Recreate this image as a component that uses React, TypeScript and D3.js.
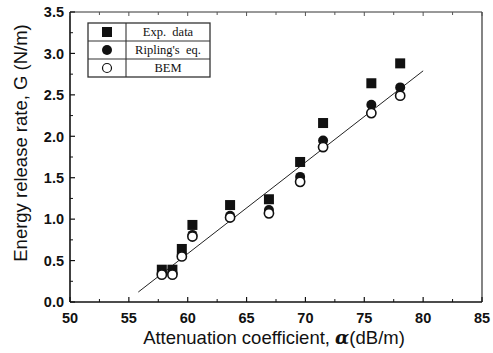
import React from 'react';
import * as d3 from 'd3';

// attenuation coefficient (dB/m) for each specimen
const alpha = [57.8, 58.7, 59.5, 60.4, 63.6, 66.9, 69.55, 71.5, 75.6, 78.05];
// energy release rate G (N/m)
const expData = [0.39, 0.39, 0.64, 0.93, 1.17, 1.24, 1.69, 2.16, 2.64, 2.88];
const ripling = [0.35, 0.35, 0.57, 0.81, 1.04, 1.11, 1.51, 1.95, 2.38, 2.59];
const bem = [0.33, 0.33, 0.55, 0.79, 1.02, 1.07, 1.45, 1.87, 2.28, 2.49];
// fitted line end points
const fitX = [55.8, 80.0];
const fitY = [0.12, 2.79];

const xTicks = [50, 55, 60, 65, 70, 75, 80, 85];
const yTicks = [0, 0.5, 1, 1.5, 2, 2.5, 3, 3.5];
const yTickLabels = ['0.0', '0.5', '1.0', '1.5', '2.0', '2.5', '3.0', '3.5'];
const legendLabels = ['Exp.  data', "Ripling's  eq.", 'BEM'];

const width = 493;
const height = 353;
const margin = { top: 12, right: 11, bottom: 51, left: 70 };

const App = () => {
  const x = d3.scaleLinear().domain([50, 85]).range([margin.left, width - margin.right]);
  const y = d3.scaleLinear().domain([0, 3.5]).range([height - margin.bottom, margin.top]);

  const x0 = x.range()[0];
  const x1 = x.range()[1];
  const y0 = y.range()[0];
  const y1 = y.range()[1];

  const xMinor = d3.range(52.5, 85, 5);
  const yMinor = d3.range(0.25, 3.5, 0.5);

  const line = d3.line<number>()
    .x(d => x(fitX[d]))
    .y(d => y(fitY[d]));

  const font = 'Liberation Sans, Arial, sans-serif';
  const lg = { x: 88, y: 23, w: 122, rowH: 18, col: 38 };

  return (
    <svg width={width} height={height} style={{ position: 'absolute', left: 0, top: 0 }}>
      <rect width={width} height={height} fill="#fff" />

      {/* fit line */}
      <path d={line([0, 1]) || ''} fill="none" stroke="#222" strokeWidth={1} />

      {/* markers */}
      {alpha.map((a, i) => (
        <rect key={'e' + i} x={x(a) - 5} y={y(expData[i]) - 5} width={10} height={10} fill="#111" />
      ))}
      {alpha.map((a, i) => (
        <circle key={'r' + i} cx={x(a)} cy={y(ripling[i])} r={5} fill="#111" />
      ))}
      {alpha.map((a, i) => (
        <circle key={'b' + i} cx={x(a)} cy={y(bem[i])} r={4.6} fill="#fff" stroke="#111" strokeWidth={1.6} />
      ))}

      {/* frame */}
      <line x1={x0} x2={x0} y1={y0} y2={y1} stroke="#111" strokeWidth={1.6} />
      <line x1={x0} x2={x1} y1={y0} y2={y0} stroke="#111" strokeWidth={1.6} />
      <line x1={x0} x2={x1} y1={y1} y2={y1} stroke="#333" strokeWidth={1} />
      <line x1={x1} x2={x1} y1={y0} y2={y1} stroke="#333" strokeWidth={1.2} />

      {/* x ticks */}
      {xTicks.map(t => (
        <g key={'xt' + t}>
          <line x1={x(t)} x2={x(t)} y1={y0} y2={y0 - 5} stroke="#111" strokeWidth={1.2} />
          <line x1={x(t)} x2={x(t)} y1={y1} y2={y1 + 4} stroke="#555" strokeWidth={1} />
          <text x={x(t)} y={y0 + 21} textAnchor="middle" fontFamily={font} fontWeight="bold"
            fontSize={14.5} fill="#111">{t}</text>
        </g>
      ))}
      {xMinor.map(t => (
        <g key={'xm' + t}>
          <line x1={x(t)} x2={x(t)} y1={y0} y2={y0 - 3} stroke="#111" strokeWidth={1} />
          <line x1={x(t)} x2={x(t)} y1={y1} y2={y1 + 3} stroke="#555" strokeWidth={1} />
        </g>
      ))}

      {/* y ticks */}
      {yTicks.map((t, i) => (
        <g key={'yt' + t}>
          <line x1={x0} x2={x0 + 5} y1={y(t)} y2={y(t)} stroke="#111" strokeWidth={1.2} />
          <text x={x0 - 6} y={y(t)} dy="0.36em" textAnchor="end" fontFamily={font} fontWeight="bold"
            fontSize={14.5} fill="#111">{yTickLabels[i]}</text>
        </g>
      ))}
      {yMinor.map(t => (
        <line key={'ym' + t} x1={x0} x2={x0 + 3} y1={y(t)} y2={y(t)} stroke="#111" strokeWidth={1} />
      ))}

      {/* axis titles */}
      <text x={274} y={344} textAnchor="middle" fontFamily={font} fontSize={18.5} fill="#111">
        Attenuation coefficient,{' '}
        <tspan fontFamily="DejaVu Serif, serif" fontStyle="italic" fontWeight="bold">α</tspan>(dB/m)
      </text>
      <text transform={`translate(27,143) rotate(-90)`} textAnchor="middle"
        fontFamily={font} fontSize={18.5} fill="#111">
        Energy release rate, G (N/m)
      </text>

      {/* legend */}
      <g>
        <rect x={lg.x} y={lg.y} width={lg.w} height={lg.rowH * 3} fill="#fff" stroke="#333" strokeWidth={1.3} />
        <line x1={lg.x + lg.col} x2={lg.x + lg.col} y1={lg.y} y2={lg.y + lg.rowH * 3} stroke="#333" strokeWidth={1.1} />
        {[1, 2].map(r => (
          <line key={'lr' + r} x1={lg.x} x2={lg.x + lg.w} y1={lg.y + r * lg.rowH} y2={lg.y + r * lg.rowH}
            stroke="#333" strokeWidth={1.1} />
        ))}
        <rect x={lg.x + lg.col / 2 - 5} y={lg.y + lg.rowH / 2 - 5} width={10} height={10} fill="#111" />
        <circle cx={lg.x + lg.col / 2} cy={lg.y + lg.rowH * 1.5} r={5} fill="#111" />
        <circle cx={lg.x + lg.col / 2} cy={lg.y + lg.rowH * 2.5} r={4.5} fill="#fff" stroke="#111" strokeWidth={1.2} />
        {legendLabels.map((l, i) => (
          <text key={l} x={lg.x + lg.col + (lg.w - lg.col) / 2} y={lg.y + lg.rowH * (i + 0.5)} dy="0.35em"
            textAnchor="middle" fontFamily="Liberation Serif, Times New Roman, serif" fontSize={12.5}
            fill="#111" style={{ whiteSpace: 'pre' }}>{l}</text>
        ))}
      </g>
    </svg>
  );
};

export default App;
